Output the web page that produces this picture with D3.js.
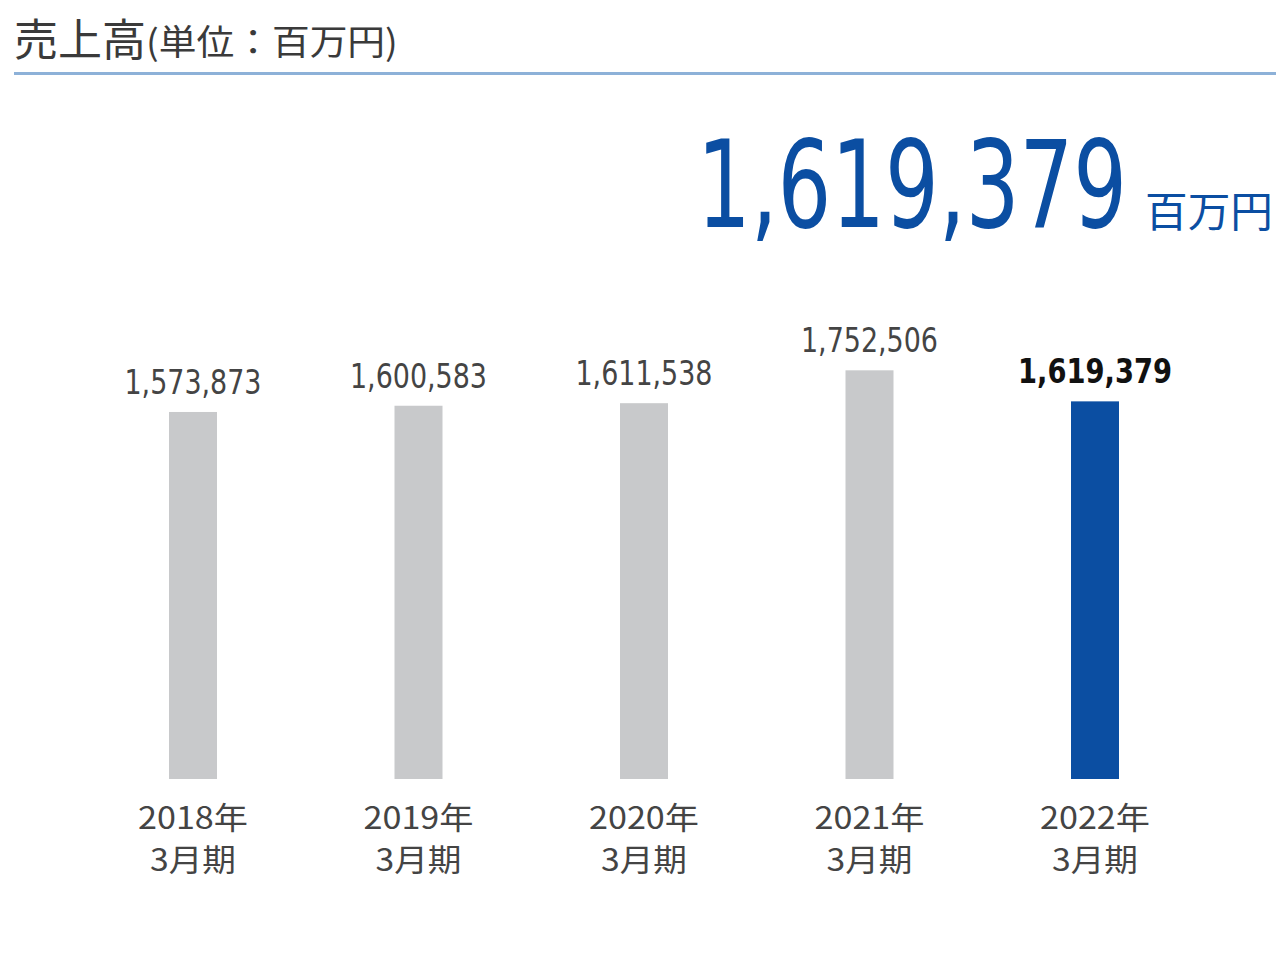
<!DOCTYPE html>
<html><head><meta charset="utf-8">
<script src="https://cdn.jsdelivr.net/npm/d3@7"></script>
<style>body{margin:0;background:#fff}svg{display:block}</style>
</head><body>
<svg id="c" width="1279" height="953"></svg>
<script>
const categories = ["2018年", "2019年", "2020年", "2021年", "2022年"];
const subLabels = ["3月期", "3月期", "3月期", "3月期", "3月期"];
const values = [1573873, 1600583, 1611538, 1752506, 1619379];
const valueLabels = ["1,573,873", "1,600,583", "1,611,538", "1,752,506", "1,619,379"];
const highlightIndex = 4;
const titleMain = "売上高";
const titleSub = "(単位：百万円)";
const headline = "1,619,379";
const headlineUnit = "百万円";

const svg = d3.select("#c");
const jp = "'Noto Sans CJK JP', sans-serif";
const num = "'Liberation Sans Narrow', 'DejaVu Sans Condensed', 'Roboto', sans-serif";

// place text at (x, y) with anchor, scaled horizontally to a target width
function fitText(sel, x, y, width, anchor) {
  sel.each(function () {
    const w = this.getComputedTextLength();
    const s = width / w;
    let tx = x;
    if (anchor === "middle") tx = x - width / 2;
    else if (anchor === "end") tx = x - width;
    d3.select(this).attr("x", 0).attr("y", 0).attr("text-anchor", "start")
      .attr("transform", `translate(${tx},${y}) scale(${s},1)`);
  });
}

// title
const t1 = svg.append("text").attr("font-family", jp).attr("font-size", 44)
  .attr("fill", "#3a3a3a").text(titleMain);
fitText(t1, 14, 56, 132, "start");
const t2 = svg.append("text").attr("font-family", jp).attr("font-size", 35)
  .attr("fill", "#3a3a3a").text(titleSub);
fitText(t2, 146, 55, 252, "start");
svg.append("rect").attr("x", 14).attr("y", 72).attr("width", 1262).attr("height", 3).attr("fill", "#8db1d8");

// headline
const h = svg.append("text").attr("font-family", num).attr("font-size", 122)
  .attr("fill", "#0b4ea2").text(headline);
fitText(h, 697, 227, 430, "start");
const hu = svg.append("text").attr("font-family", jp).attr("font-size", 42)
  .attr("fill", "#0b4ea2").text(headlineUnit);
fitText(hu, 1145, 227, 128, "start");

// scales
const x = d3.scalePoint().domain(categories).range([193, 1095]);
const y = d3.scaleLinear().domain([0, 2000000]).range([779, 779 - 466.4]);
const barW = 48;

const g = svg.append("g");
g.selectAll("rect.bar").data(values).join("rect").attr("class", "bar")
  .attr("x", (d, i) => x(categories[i]) - barW / 2)
  .attr("y", d => y(d))
  .attr("width", barW)
  .attr("height", d => y(0) - y(d))
  .attr("fill", (d, i) => i === highlightIndex ? "#0b4ea2" : "#c8c9cb");

values.forEach((d, i) => {
  const hi = i === highlightIndex;
  const t = g.append("text").attr("class", "val")
    .attr("font-family", num).attr("font-size", 34)
    .attr("font-weight", hi ? "bold" : "normal")
    .attr("fill", hi ? "#111" : "#444")
    .text(valueLabels[i]);
  fitText(t, x(categories[i]), y(d) - 18, hi ? 154 : 137, "middle");
});

categories.forEach((c, i) => {
  const t = g.append("text").attr("class", "cat").attr("font-family", jp)
    .attr("font-size", 31).attr("fill", "#444").text(c);
  fitText(t, x(c), 829, 110, "middle");
  const s = g.append("text").attr("class", "sub").attr("font-family", jp)
    .attr("font-size", 31).attr("fill", "#444").text(subLabels[i]);
  fitText(s, x(c), 871, 86, "middle");
});
</script>
</body></html>
